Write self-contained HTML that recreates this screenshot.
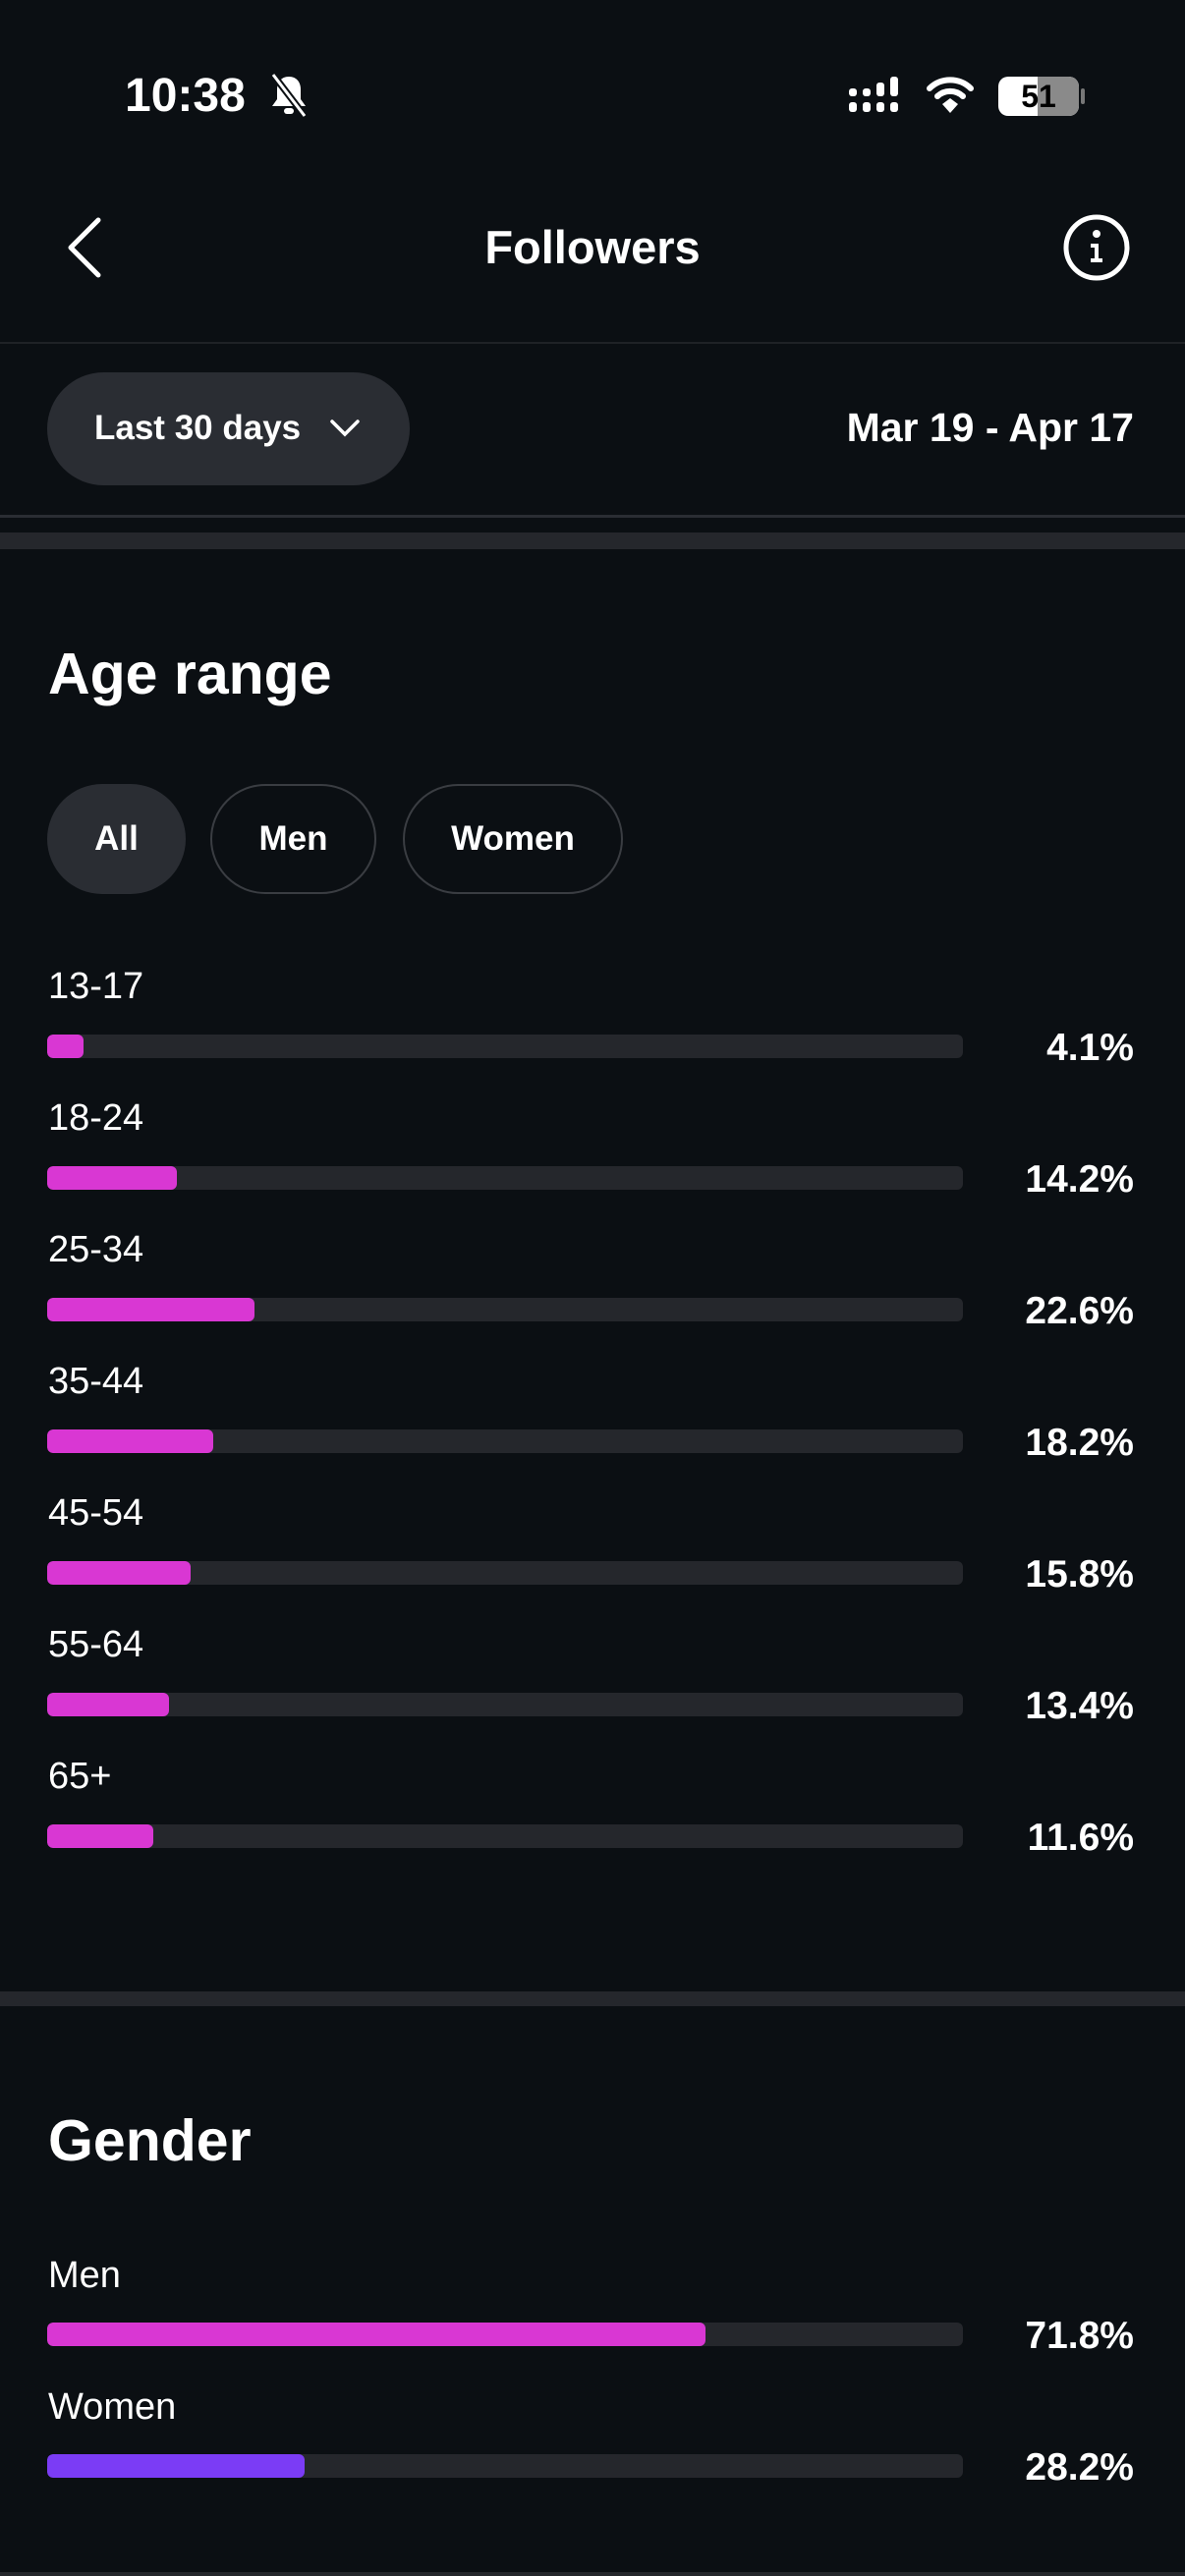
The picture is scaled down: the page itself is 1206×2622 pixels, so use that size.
<!DOCTYPE html>
<html><head><meta charset="utf-8"><style>
*{margin:0;padding:0;box-sizing:border-box}
body{width:1206px;height:2622px;background:#0b0f13;position:relative;overflow:hidden;font-family:"Liberation Sans",sans-serif;color:#fff}
.a{position:absolute;white-space:nowrap}
.track{position:absolute;left:48px;width:932px;height:24px;background:#25272c;border-radius:6px;overflow:hidden}
.fill{position:absolute;left:0;top:0;height:24px;background:#d937d3;border-radius:6px}
.lbl{position:absolute;left:49px;font-size:38px;line-height:44px}
.pct{position:absolute;right:52px;font-size:39px;line-height:44px;font-weight:bold;text-align:right;margin-top:2px}
</style></head><body>
<div class="a" style="left:127px;top:70px;font-size:48px;line-height:56px;font-weight:bold">10:38</div>
<svg class="a" style="left:272px;top:74px" width="44" height="46" viewBox="0 0 44 46"><path d="M22 4c-8 0-12 6-12 13v10l-5 7h34l-5-7V17c0-7-4-13-12-13z" fill="#fff"/><rect x="17" y="36" width="10" height="6" rx="3" fill="#fff"/><line x1="6" y1="2" x2="38" y2="44" stroke="#0b0f13" stroke-width="7"/><line x1="6" y1="2" x2="38" y2="44" stroke="#fff" stroke-width="3"/></svg>
<svg class="a" style="left:862px;top:76px" width="62" height="42"><rect x="2" y="14" width="8" height="8" rx="3" fill="#fff"/><rect x="2" y="28" width="8" height="10" rx="3" fill="#fff"/><rect x="16" y="14" width="8" height="8" rx="3" fill="#fff"/><rect x="16" y="28" width="8" height="10" rx="3" fill="#fff"/><rect x="30" y="8" width="8" height="14" rx="3" fill="#fff"/><rect x="30" y="28" width="8" height="10" rx="3" fill="#fff"/><rect x="44" y="2" width="8" height="20" rx="3" fill="#fff"/><rect x="44" y="28" width="8" height="10" rx="3" fill="#fff"/></svg>
<svg class="a" style="left:942px;top:76px" width="50" height="42" viewBox="0 0 50 42"><path d="M4 14a30 30 0 0 1 42 0" stroke="#fff" stroke-width="6" fill="none" stroke-linecap="round"/><path d="M12 22a19 19 0 0 1 26 0" stroke="#fff" stroke-width="6" fill="none" stroke-linecap="round"/><path d="M17 30l8-6 8 6-8 9z" fill="#fff"/></svg>
<div class="a" style="left:1016px;top:78px;width:82px;height:40px;border-radius:10px;background:#fff;overflow:hidden"><div style="position:absolute;left:40px;top:0;width:42px;height:40px;background:#8a8a8a"></div><div style="position:absolute;left:0;width:82px;top:0;line-height:40px;text-align:center;font-weight:bold;font-size:32px;color:#000">51</div></div>
<div class="a" style="left:1100px;top:90px;width:4px;height:16px;background:#777;border-radius:2px"></div>
<svg class="a" style="left:66px;top:220px" width="40" height="64"><polyline points="34,4 6,32 34,60" stroke="#fff" stroke-width="5" fill="none" stroke-linecap="round" stroke-linejoin="round"/></svg>
<div class="a" style="left:0;width:1206px;top:224px;text-align:center;font-size:47px;line-height:56px;font-weight:bold">Followers</div>
<svg class="a" style="left:1080px;top:216px" width="72" height="72"><circle cx="36" cy="36" r="31" stroke="#fff" stroke-width="5" fill="none"/><circle cx="36" cy="22" r="4" fill="#fff"/><path d="M30 32h8v15h4v4H30v-4h4V36h-4z" fill="#fff"/></svg>
<div class="a" style="left:0;top:348px;width:1206px;height:2px;background:#1f2226"></div>
<div class="a" style="left:48px;top:379px;width:369px;height:115px;border-radius:58px;background:#2a2d33"></div>
<div class="a" style="left:96px;top:414px;font-size:35px;line-height:44px;font-weight:bold">Last 30 days</div>
<svg class="a" style="left:334px;top:424px" width="34" height="24"><polyline points="4,5 17,18 30,5" stroke="#fff" stroke-width="3.5" fill="none" stroke-linecap="round"/></svg>
<div class="a" style="right:52px;top:410px;font-size:41px;line-height:50px;font-weight:bold">Mar 19 - Apr 17</div>
<div class="a" style="left:0;top:524px;width:1206px;height:3px;background:#2a2d33"></div>
<div class="a" style="left:0;top:542px;width:1206px;height:17px;background:#25272c"></div>
<div class="a" style="left:49px;top:652px;font-size:59px;line-height:68px;font-weight:bold">Age range</div>
<div class="a" style="left:48px;top:798px;width:141px;height:112px;border-radius:56px;background:#2a2d33;text-align:center;line-height:112px;font-size:35px;font-weight:bold">All</div>
<div class="a" style="left:214px;top:798px;width:169px;height:112px;border-radius:56px;border:2.5px solid #3a3d42;text-align:center;line-height:107px;font-size:35px;font-weight:bold">Men</div>
<div class="a" style="left:410px;top:798px;width:224px;height:112px;border-radius:56px;border:2.5px solid #3a3d42;text-align:center;line-height:107px;font-size:35px;font-weight:bold">Women</div>

<div class="lbl" style="top:982px">13-17</div><div class="track" style="top:1053px"><div class="fill" style="width:37px"></div></div><div class="pct" style="top:1043px">4.1%</div>
<div class="lbl" style="top:1116px">18-24</div><div class="track" style="top:1187px"><div class="fill" style="width:132px"></div></div><div class="pct" style="top:1177px">14.2%</div>
<div class="lbl" style="top:1250px">25-34</div><div class="track" style="top:1321px"><div class="fill" style="width:211px"></div></div><div class="pct" style="top:1311px">22.6%</div>
<div class="lbl" style="top:1384px">35-44</div><div class="track" style="top:1455px"><div class="fill" style="width:169px"></div></div><div class="pct" style="top:1445px">18.2%</div>
<div class="lbl" style="top:1518px">45-54</div><div class="track" style="top:1589px"><div class="fill" style="width:146px"></div></div><div class="pct" style="top:1579px">15.8%</div>
<div class="lbl" style="top:1652px">55-64</div><div class="track" style="top:1723px"><div class="fill" style="width:124px"></div></div><div class="pct" style="top:1713px">13.4%</div>
<div class="lbl" style="top:1786px">65+</div><div class="track" style="top:1857px"><div class="fill" style="width:108px"></div></div><div class="pct" style="top:1847px">11.6%</div>

<div class="a" style="left:0;top:2027px;width:1206px;height:15px;background:#25272c"></div>
<div class="a" style="left:49px;top:2145px;font-size:59px;line-height:68px;font-weight:bold">Gender</div>
<div class="lbl" style="top:2294px">Men</div><div class="track" style="top:2364px"><div class="fill" style="width:670px"></div></div><div class="pct" style="top:2354px">71.8%</div>
<div class="lbl" style="top:2428px">Women</div><div class="track" style="top:2498px"><div class="fill" style="width:262px;background:#7b3cf5"></div></div><div class="pct" style="top:2488px">28.2%</div>
<div class="a" style="left:0;top:2618px;width:1206px;height:4px;background:#25272c"></div>
</body></html>
